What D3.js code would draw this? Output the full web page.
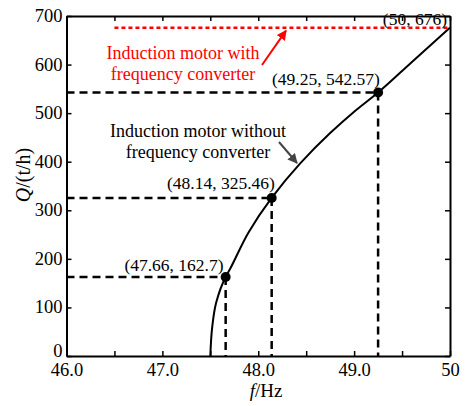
<!DOCTYPE html>
<html>
<head>
<meta charset="utf-8">
<script src="https://cdn.jsdelivr.net/npm/d3@7"></script>
<style>
  html, body { margin: 0; padding: 0; background: #fff; }
  svg { display: block; }
  text { font-family: "Liberation Serif", "Times New Roman", serif; }
</style>
</head>
<body>
<svg id="chart" width="465" height="406"></svg>
<script>
// Pump flow Q versus supply frequency f
const curveF = [47.5, 47.52, 47.56, 47.66, 47.7, 47.9, 48.14, 48.44, 48.75, 49.0, 49.25, 49.6, 50];
const curveQ = [0, 60, 109, 162.7, 177, 255, 325.46, 397, 459, 503, 542.57, 605, 676];

// Marked operating points
const pointF = [47.66, 48.14, 49.25];
const pointQ = [162.7, 325.46, 542.57];
const pointLabels = ["(47.66, 162.7)", "(48.14, 325.46)", "(49.25, 542.57)"];

// Rated point, held constant when the converter is used
const ratedF = 50;
const ratedQ = 676;
const ratedLabel = "(50, 676)";
const convStartF = 46.5;

// Axis ticks
const xTicks = [46, 46.5, 47, 47.5, 48, 48.5, 49, 49.5, 50];
const xTickLabels = ["46.0", "", "47.0", "", "48.0", "", "49.0", "", "50"];
const yTicks = [0, 100, 200, 300, 400, 500, 600, 700];

const SERIF = '"Liberation Serif", "Times New Roman", serif';
const svg = d3.select("#chart");
const L = 66.5, R = 450, T = 16, B = 356;
const x = d3.scaleLinear().domain([46, 50]).range([L, R]);
const y = d3.scaleLinear().domain([0, 700]).range([B, T]);

// Frame and inward ticks
const tickLen = 5;
const fmtX = (d, i) => xTickLabels[i];
const axB = svg.append("g").attr("transform", `translate(0,${B})`)
  .call(d3.axisBottom(x).tickValues(xTicks).tickFormat(fmtX).tickSizeInner(-tickLen).tickSizeOuter(0).tickPadding(7));
const axT = svg.append("g").attr("transform", `translate(0,${T})`)
  .call(d3.axisTop(x).tickValues(xTicks).tickFormat("").tickSizeInner(-tickLen).tickSizeOuter(0));
const axL = svg.append("g").attr("transform", `translate(${L},0)`)
  .call(d3.axisLeft(y).tickValues(yTicks).tickSizeInner(-tickLen).tickSizeOuter(0).tickPadding(4));
const axR = svg.append("g").attr("transform", `translate(${R},0)`)
  .call(d3.axisRight(y).tickValues(yTicks).tickFormat("").tickSizeInner(-tickLen).tickSizeOuter(0));
[axB, axT, axL, axR].forEach(g => {
  g.attr("font-family", SERIF).attr("font-size", 18.5);
  g.select(".domain").attr("stroke", "#000").attr("stroke-width", 2);
  g.selectAll(".tick line").attr("stroke", "#000").attr("stroke-width", 1.5);
  g.selectAll("text").attr("fill", "#000");
});
axL.selectAll("text").attr("dy", d => d === 0 ? "0em" : "0.3em");

// Axis titles
const xt = svg.append("text").attr("x", 266).attr("y", 397).attr("text-anchor", "middle")
  .attr("font-size", 19);
xt.append("tspan").style("font-style", "italic").text("f");
xt.append("tspan").text("/Hz");
const yt = svg.append("text").attr("transform", "translate(30,175) rotate(-90)")
  .attr("text-anchor", "middle").attr("font-size", 20);
yt.append("tspan").style("font-style", "italic").text("Q");
yt.append("tspan").text("/(t/h)");

// Dashed guides from each marked point to both axes
const guides = svg.append("g").attr("stroke", "#000").attr("stroke-width", 2.5)
  .attr("stroke-dasharray", "8,5").attr("fill", "none");
pointF.forEach((f, i) => {
  guides.append("line").attr("x1", x(46)).attr("x2", x(f)).attr("y1", y(pointQ[i])).attr("y2", y(pointQ[i]));
  guides.append("line").attr("x1", x(f)).attr("x2", x(f)).attr("y1", y(pointQ[i])).attr("y2", y(0));
});

// Constant-flow line with converter
svg.append("line").attr("x1", x(convStartF)).attr("x2", x(ratedF))
  .attr("y1", y(ratedQ)).attr("y2", y(ratedQ))
  .attr("stroke", "#ff0000").attr("stroke-width", 2.5).attr("stroke-dasharray", "4,3");

// Flow curve without converter
const pts = curveF.map((f, i) => [f, curveQ[i]]);
svg.append("path").datum(pts)
  .attr("d", d3.line().x(d => x(d[0])).y(d => y(d[1])).curve(d3.curveMonotoneY))
  .attr("fill", "none").attr("stroke", "#000").attr("stroke-width", 2);

// Points
svg.append("g").selectAll("circle").data(pointF).join("circle")
  .attr("cx", d => x(d)).attr("cy", (d, i) => y(pointQ[i])).attr("r", 5).attr("fill", "#000");

// Point labels
const lblPos = [[174, 271], [221, 189], [326, 85]];
svg.append("g").selectAll("text").data(pointLabels).join("text")
  .attr("x", (d, i) => lblPos[i][0]).attr("y", (d, i) => lblPos[i][1])
  .attr("text-anchor", "middle").attr("font-size", 17.5).attr("fill", "#000").text(d => d);
svg.append("text").attr("x", x(ratedF) - 3).attr("y", y(ratedQ) - 3)
  .attr("text-anchor", "end").attr("font-size", 17.5).attr("fill", "#000").text(ratedLabel);

// Annotations with arrows
const defs = svg.append("defs");
function arrowHead(id, color) {
  defs.append("marker").attr("id", id).attr("viewBox", "0 0 10 10").attr("refX", 9).attr("refY", 5)
    .attr("markerWidth", 5).attr("markerHeight", 5).attr("orient", "auto").attr("markerUnits", "strokeWidth")
    .append("path").attr("d", "M0,0 L10,5 L0,10 z").attr("fill", color);
}
arrowHead("ahRed", "#ff0000");
arrowHead("ahGrey", "#444");

const red = svg.append("text").attr("text-anchor", "middle").attr("fill", "#ff0000").attr("font-size", 18);
red.append("tspan").attr("x", 183).attr("y", 59).text("Induction motor with");
red.append("tspan").attr("x", 183).attr("y", 80).text("frequency converter");
svg.append("line").attr("x1", 262).attr("y1", 65).attr("x2", 286).attr("y2", y(ratedQ) + 3)
  .attr("stroke", "#ff0000").attr("stroke-width", 2).attr("marker-end", "url(#ahRed)");

const blk = svg.append("text").attr("text-anchor", "middle").attr("fill", "#000").attr("font-size", 18);
blk.append("tspan").attr("x", 198).attr("y", 137).text("Induction motor without");
blk.append("tspan").attr("x", 198).attr("y", 158).text("frequency converter");
svg.append("line").attr("x1", 279).attr("y1", 142).attr("x2", 297).attr("y2", 163)
  .attr("stroke", "#444").attr("stroke-width", 2).attr("marker-end", "url(#ahGrey)");
</script>
</body>
</html>
